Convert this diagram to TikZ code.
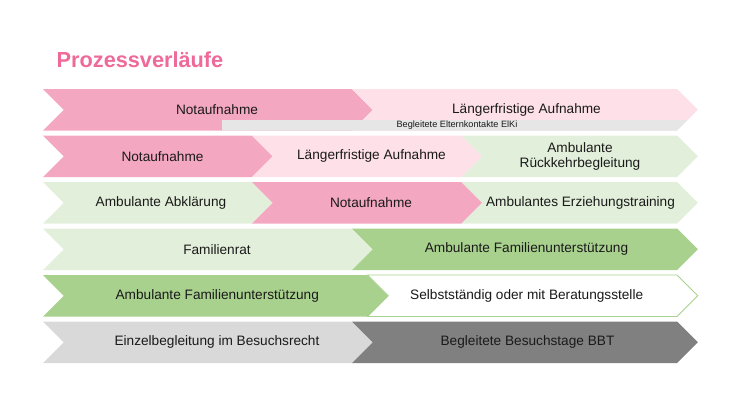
\documentclass[tikz,border=0pt]{standalone}
\usepackage{fontspec}
\setmainfont{Liberation Sans}
\usepackage{tikz}

\definecolor{pinkdark}{HTML}{F4A7C1}
\definecolor{pinklight}{HTML}{FDE0E8}
\definecolor{greenlight}{HTML}{E2EFDA}
\definecolor{greenmid}{HTML}{A9D18E}
\definecolor{greylight}{HTML}{D9D9D9}
\definecolor{greydark}{HTML}{808080}
\definecolor{greybar}{HTML}{E7E6E6}
\definecolor{titlepink}{HTML}{EE6A98}
\definecolor{txt}{HTML}{1A1A1A}

% chevron: left x, tip start x, top y, fill style
\newcommand{\chevron}[4]{%
  \path[#4] (#1,#3) -- (#2,#3) -- ++(20.75,20.75) -- ++(-20.75,20.75)
    -- (#1,#3+41.5) -- ++(20.75,-20.75) -- cycle;}

\tikzset{
  lbl/.style={text=txt, font=\fontsize{13.7}{14.3}\selectfont, align=center, inner sep=0pt},
  small/.style={text=txt, font=\fontsize{9.2}{10}\selectfont, inner sep=0pt}
}

\begin{document}
\begin{tikzpicture}[x=1bp,y=-1bp]
      \useasboundingbox (0,0) rectangle (740,416);
      \node[anchor=base west, text=titlepink, font=\fontsize{21.8}{24}\bfseries, inner sep=0pt] (title) at (56.5,67.3) {Prozessverläufe};

      % row 1
      \chevron{43}{352}{89}{fill=pinkdark}
      \chevron{352}{677}{89}{fill=pinklight}
      \fill[greybar] (222,120) -- (687.5,120) -- (677,130.5) -- (222,130.5) -- cycle;
      \node[lbl] (r1a) at (217,109.5) {Notaufnahme};
      \node[lbl] (r1b) at (526.5,109.5) {Längerfristige Aufnahme};
      \node[small] (r1c) at (457,125.3) {Begleitete Elternkontakte ElKi};

      % row 2
      \chevron{43}{252}{135.5}{fill=pinkdark}
      \chevron{252}{461.5}{135.5}{fill=pinklight}
      \chevron{461.5}{677}{135.5}{fill=greenlight}
      \node[lbl] (r2a) at (162.5,156.25) {Notaufnahme};
      \node[lbl] (r2b) at (371.5,156.25) {Längerfristige Aufnahme};
      \node[lbl] (r2c) at (580,156.5) {Ambulante\\Rückkehrbegleitung};

      % row 3
      \chevron{43}{252}{182}{fill=greenlight}
      \chevron{252}{461.5}{182}{fill=pinkdark}
      \chevron{461.5}{677}{182}{fill=greenlight}
      \node[lbl] (r3a) at (161,202.75) {Ambulante Abklärung};
      \node[lbl] (r3b) at (371,202.75) {Notaufnahme};
      \node[lbl] (r3c) at (580.5,202.75) {Ambulantes Erziehungstraining};

      % row 4
      \chevron{43}{352}{228.5}{fill=greenlight}
      \chevron{352}{677}{228.5}{fill=greenmid}
      \node[lbl] (r4a) at (217,249.25) {Familienrat};
      \node[lbl] (r4b) at (526.5,249.25) {Ambulante Familienunterstützung};

      % row 5
      \chevron{43}{367.5}{275}{fill=greenmid}
      \chevron{367.5}{677}{275}{fill=white, draw=greenmid, line width=0.8bp}
      \node[lbl] (r5a) at (217.3,295.75) {Ambulante Familienunterstützung};
      \node[lbl] (r5b) at (526.7,295.75) {Selbstständig oder mit Beratungsstelle};

      % row 6
      \chevron{43}{352}{321.5}{fill=greylight}
      \chevron{352}{677}{321.5}{fill=greydark}
      \node[lbl] (r6a) at (217,342.25) {Einzelbegleitung im Besuchsrecht};
      \node[lbl] (r6b) at (527.5,342.25) {Begleitete Besuchstage BBT};
    \end{tikzpicture}
\end{document}
